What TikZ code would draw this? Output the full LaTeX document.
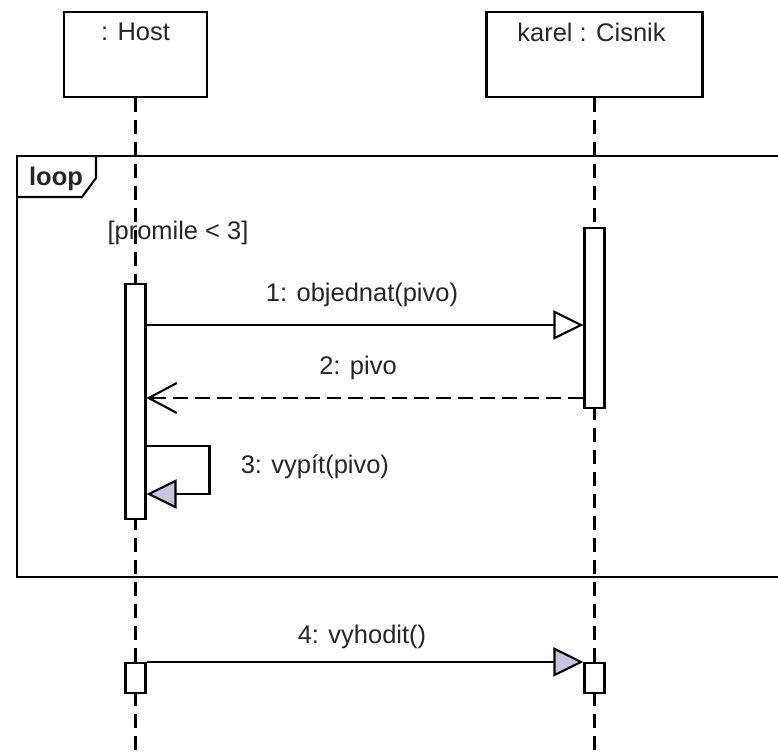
\documentclass[tikz,border=0pt]{standalone}
\usepackage{fontspec}
\setmainfont{Liberation Sans}
\usetikzlibrary{arrows.meta, positioning, calc}
\definecolor{umlink}{HTML}{262626}
\definecolor{umlfill}{HTML}{C6C6DE}

\begin{document}
\begin{tikzpicture}[x=0.02cm, y=-0.02cm, font=\fontsize{14.5}{17}\selectfont, line width=1.2pt,
  obj/.style={draw, minimum height=1.7cm, inner sep=0pt},
  act/.style={draw, fill=white, minimum width=0.4cm, inner sep=0pt},
  lifeline/.style={dash pattern=on 0.28cm off 0.16cm},
  lbl/.style={text=umlink, inner sep=1pt},
  call/.style={-{Triangle[open, length=0.6cm, width=0.58cm]}},
  sig/.style={-{Triangle[fill=umlfill, length=0.6cm, width=0.58cm]}},
  reply/.style={dash pattern=on 0.3cm off 0.14cm, -{Straight Barb[length=0.56cm, width=0.6cm]}}]
  \useasboundingbox (0,0) rectangle (778,753);

  % objects and lifelines
  \node[obj, minimum width=2.86cm] (host) at (135.5,54.5) {};
  \node[obj, minimum width=4.32cm] (cis) at (594.5,54.5) {};
  \node[lbl] (hostname) at ($(host.north)+(0,21)$) {: Host};
  \node[lbl] (cisname) at ($(cis.north)+(-3,21)$) {karel : Cisnik};
  \coordinate (hostend) at (135.5,753);
  \coordinate (cisend) at (594.5,753);
  \draw[lifeline] (host.south) -- (hostend);
  \draw[lifeline] (cis.south) -- (cisend);

  % loop frame
  \draw (778,156) -- (17,156) -- (17,577) -- (778,577);
  \draw (17,197) -- (82,197) -- (96,178) -- (96,156);
  \node[font=\bfseries\fontsize{14.5}{17}\selectfont, text=umlink, inner sep=1pt] (looptag) at (56,179) {loop};
  \node[lbl] (guard) at (178,233) {[promile < 3]};

  % activations
  \node[act, minimum height=4.7cm] (hostact) at (135.5,401.5) {};
  \node[act, minimum height=3.6cm] (cisact) at (594.5,318) {};
  \node[act, minimum height=0.6cm] (hostrun) at (135.5,678) {};
  \node[act, minimum height=0.6cm] (cisrun) at (594.5,678) {};

  % messages
  \coordinate (m1) at (0,325);
  \coordinate (m2) at (0,398);
  \coordinate (m3a) at (0,446);
  \coordinate (m3b) at (0,494);
  \draw[call] (hostact.east |- m1) -- (cisact.west |- m1);
  \draw[reply] (cisact.west |- m2) -- (hostact.east |- m2);
  \draw[sig] (hostact.east |- m3a) -- ++(63,0) |- (hostact.east |- m3b);
  \draw[sig] (hostrun.north east) -- (cisrun.north west);

  \node[lbl] (m1lbl) at (362,295) {1: objednat(pivo)};
  \node[lbl] (m2lbl) at (358,368) {2: pivo};
  \node[lbl, anchor=west] (m3lbl) at (238,467) {3: vypít(pivo)};
  \node[lbl] (m4lbl) at (362,637) {4: vyhodit()};
\end{tikzpicture}
\end{document}
